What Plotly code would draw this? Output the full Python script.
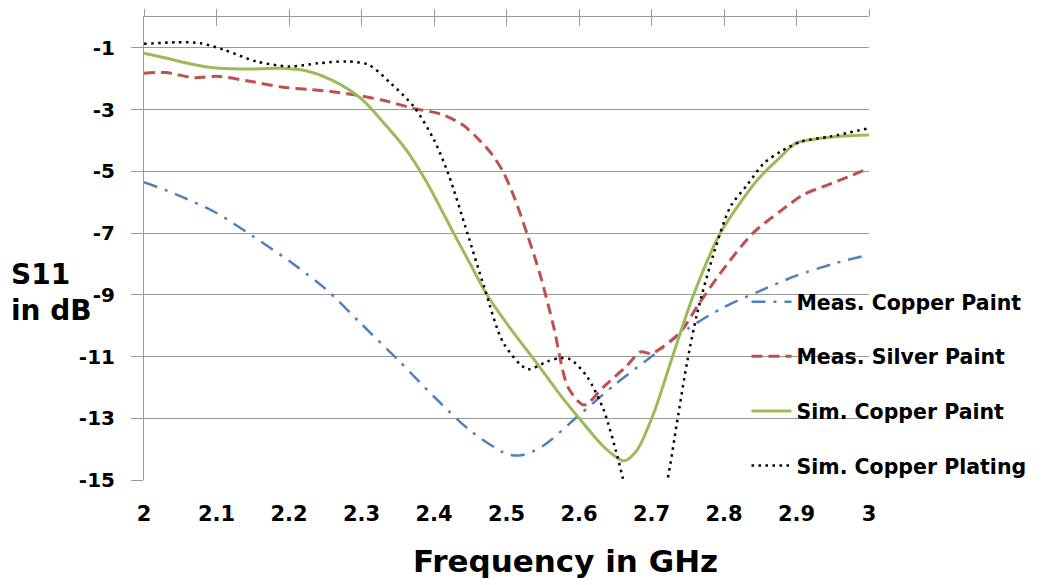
import plotly.graph_objects as go

# Meas. Copper Paint
f_mcp = [2.0, 2.05, 2.1, 2.15, 2.2, 2.25, 2.3, 2.35, 2.4, 2.45, 2.5, 2.52, 2.55, 2.6,
         2.65, 2.7, 2.75, 2.8, 2.85, 2.9, 2.95, 3.0]
s_mcp = [-5.35, -5.8, -6.35, -7.1, -7.9, -8.8, -9.95, -11.1, -12.3, -13.4, -14.15, -14.2,
         -13.9, -12.9, -11.9, -11.0, -10.1, -9.4, -8.87, -8.38, -8.0, -7.7]

# Meas. Silver Paint
f_msp = [2.0, 2.03, 2.07, 2.1, 2.15, 2.19, 2.23, 2.26, 2.29, 2.33, 2.37, 2.41, 2.44, 2.465,
         2.48, 2.495, 2.51, 2.528, 2.547, 2.565, 2.585, 2.607, 2.634, 2.666, 2.685, 2.70,
         2.74, 2.763, 2.795, 2.84, 2.88, 2.91, 2.95, 3.0]
s_msp = [-1.82, -1.8, -1.97, -1.92, -2.1, -2.27, -2.35, -2.42, -2.52, -2.7, -2.95, -3.15,
         -3.5, -4.05, -4.45, -5.0, -5.8, -7.0, -8.4, -10.03, -12.0, -12.57, -11.98, -11.3,
         -10.85, -10.9, -10.2, -9.38, -8.3, -7.0, -6.25, -5.75, -5.38, -4.9]

# Sim. Copper Paint
f_scp = [2.0, 2.03, 2.06, 2.09, 2.12, 2.16, 2.19, 2.225, 2.26, 2.3, 2.335, 2.36, 2.39, 2.427,
         2.45, 2.473, 2.505, 2.542, 2.574, 2.602, 2.634, 2.662, 2.68, 2.703, 2.729, 2.758,
         2.795, 2.846, 2.875, 2.9, 2.933, 2.96, 3.0]
s_scp = [-1.17, -1.33, -1.5, -1.63, -1.68, -1.68, -1.66, -1.75, -2.05, -2.65, -3.55, -4.25,
         -5.35, -7.0, -8.0, -9.0, -10.08, -11.22, -12.24, -13.05, -13.92, -14.38, -14.03,
         -12.84, -11.0, -9.0, -7.0, -5.28, -4.6, -4.08, -3.93, -3.86, -3.82]

# Sim. Copper Plating
f_scpl = [2.0, 2.045, 2.078, 2.11, 2.155, 2.2, 2.24, 2.28, 2.31, 2.34, 2.372, 2.4, 2.42, 2.446,
          2.469, 2.496, 2.529, 2.556, 2.574, 2.588, 2.611, 2.634, 2.653, 2.66, 2.675,
          2.69, 2.705, 2.722, 2.735, 2.749, 2.763, 2.786, 2.809, 2.832, 2.855, 2.878, 2.906,
          2.947, 3.0]
s_scpl = [-0.87, -0.82, -0.85, -1.06, -1.44, -1.6, -1.5, -1.44, -1.55, -2.14, -2.9, -3.98,
          -5.1, -7.0, -8.73, -10.57, -11.41, -11.16, -11.05, -11.09, -11.65, -12.73,
          -14.24, -14.9, -16.3, -17.0, -16.6, -15.0, -13.16, -11.2, -9.6, -7.65, -6.14,
          -5.44, -4.74, -4.36, -4.04, -3.87, -3.6]

series_names = ["Meas. Copper Paint", "Meas. Silver Paint", "Sim. Copper Paint", "Sim. Copper Plating"]
x_ticks = [2.0, 2.1, 2.2, 2.3, 2.4, 2.5, 2.6, 2.7, 2.8, 2.9, 3.0]
x_ticktext = ["2", "2.1", "2.2", "2.3", "2.4", "2.5", "2.6", "2.7", "2.8", "2.9", "3"]
y_ticks = [-1, -3, -5, -7, -9, -11, -13, -15]
y_ticktext = ["-1", "-3", "-5", "-7", "-9", "-11", "-13", "-15"]

FONT = "DejaVu Sans"
GRID = "#9a9a9a"

fig = go.Figure()
styles = [
    dict(color="#4F81BD", width=2.5, dash="14px,8px,3px,8px"),
    dict(color="#C0504D", width=3, dash="11px,6px"),
    dict(color="#9BBB59", width=3, dash="solid"),
    dict(color="#000000", width=2.5, dash="2.5px,4.5px"),
]
data = [(f_mcp, s_mcp), (f_msp, s_msp), (f_scp, s_scp), (f_scpl, s_scpl)]
for i, ((fx, sy), name, st) in enumerate(zip(data, series_names, styles)):
    fig.add_trace(go.Scatter(x=fx, y=sy, mode="lines", name=name, legendgroup=f"g{i}",
                             line=dict(shape="spline", smoothing=0.8, **st)))

# empty traces so the top tick axes (crossing tick marks) are drawn
for ax in ["x2", "x3"]:
    fig.add_trace(go.Scatter(x=[], y=[], xaxis=ax, yaxis="y", showlegend=False,
                             hoverinfo="skip", mode="lines"))

# page body has an 8px margin, so the figure is 8px smaller and margins shifted
fig.update_layout(
    width=1039, height=577,
    margin=dict(l=136, r=178, t=9, b=105, autoexpand=False),
    paper_bgcolor="white", plot_bgcolor="white",
    font=dict(family=FONT, size=20, color="black", weight="bold"),
    showlegend=True,
    legend=dict(x=0.831, y=0.428, xanchor="left", yanchor="top", bgcolor="rgba(0,0,0,0)",
                font=dict(family=FONT, size=20.5, color="black", weight="bold"),
                traceorder="grouped", tracegroupgap=25, itemwidth=40),
    xaxis=dict(range=[2, 3], tickvals=x_ticks, ticktext=x_ticktext, showgrid=False,
               showline=False, ticks="", zeroline=False, ticklabelstandoff=19, automargin=False,
               tickfont=dict(family=FONT, size=21, weight="bold")),
    xaxis2=dict(range=[2, 3], overlaying="x", side="top", tickvals=x_ticks, showticklabels=False,
                showgrid=False, showline=True, linecolor=GRID, linewidth=1, automargin=False,
                ticks="inside", ticklen=9, tickcolor=GRID, zeroline=False, anchor="y"),
    xaxis3=dict(range=[2, 3], overlaying="x", side="top", tickvals=x_ticks, showticklabels=False,
                showgrid=False, showline=False, ticks="outside", ticklen=7, tickcolor=GRID,
                zeroline=False, anchor="y", automargin=False),
    yaxis=dict(range=[-15, 0], tickvals=y_ticks, ticktext=y_ticktext, showgrid=True,
               gridcolor=GRID, gridwidth=1, automargin=False,
               showline=True, linecolor=GRID, linewidth=1, ticks="outside", ticklen=12,
               tickcolor=GRID, zeroline=False, ticklabelstandoff=12,
               tickfont=dict(family=FONT, size=20, weight="bold")),
)
fig.add_annotation(text="S11<br>in dB", xref="paper", yref="paper", x=-0.186, y=0.405,
                   xanchor="left", yanchor="middle", showarrow=False, align="left",
                   font=dict(family=FONT, size=28, weight="bold", color="black"))
fig.add_annotation(text="Frequency in GHz", xref="paper", yref="paper", x=0.582, y=-0.176,
                   xanchor="center", yanchor="middle", showarrow=False,
                   font=dict(family=FONT, size=31, weight="bold", color="black"))
fig.write_html("out.html")
